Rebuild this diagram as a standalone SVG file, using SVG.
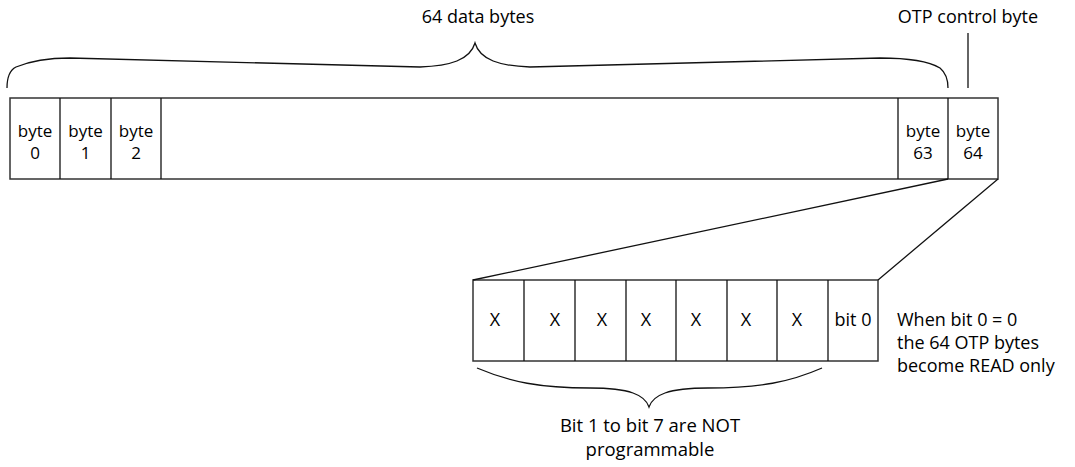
<svg xmlns="http://www.w3.org/2000/svg" width="1075" height="467" viewBox="0 0 1075 467">
<style>
text{font-family:"Open Sans","Liberation Sans",sans-serif;font-size:18px;fill:#000}
.c{text-anchor:middle}
.b{font-size:17px}
.box{fill:#fff;stroke:#333;stroke-width:1.5}
.ln{fill:none;stroke:#111;stroke-width:1.3}
</style>
<rect width="1075" height="467" fill="#fff"/>
<g id="main-row">
<rect class="box" x="10" y="98" width="988" height="81"/>
<line class="ln" x1="60" y1="98" x2="60" y2="179"/>
<line class="ln" x1="111" y1="98" x2="111" y2="179"/>
<line class="ln" x1="161" y1="98" x2="161" y2="179"/>
<line class="ln" x1="898" y1="98" x2="898" y2="179"/>
<line class="ln" x1="948" y1="98" x2="948" y2="179"/>
</g>
<g id="byte0"><text class="c b" x="35" y="137">byte<tspan x="35" dy="22">0</tspan></text></g>
<g id="byte1"><text class="c b" x="85.5" y="137">byte<tspan x="85.5" dy="22">1</tspan></text></g>
<g id="byte2"><text class="c b" x="136" y="137">byte<tspan x="136" dy="22">2</tspan></text></g>
<g id="byte63"><text class="c b" x="923" y="137">byte<tspan x="923" dy="22">63</tspan></text></g>
<g id="byte64"><text class="c b" x="973" y="137">byte<tspan x="973" dy="22">64</tspan></text></g>
<g id="label-data"><text class="c" x="478" y="23">64 data bytes</text></g>
<g id="label-otp"><text class="c" x="968" y="23">OTP control byte</text></g>
<g id="bit-row">
<rect class="box" x="473" y="280" width="405" height="81"/>
<line class="ln" x1="524" y1="280" x2="524" y2="361"/>
<line class="ln" x1="575" y1="280" x2="575" y2="361"/>
<line class="ln" x1="626" y1="280" x2="626" y2="361"/>
<line class="ln" x1="676" y1="280" x2="676" y2="361"/>
<line class="ln" x1="727" y1="280" x2="727" y2="361"/>
<line class="ln" x1="777" y1="280" x2="777" y2="361"/>
<line class="ln" x1="828" y1="280" x2="828" y2="361"/>
<text class="c" x="495" y="326">X</text>
<text class="c" x="555" y="326">X</text>
<text class="c" x="602" y="326">X</text>
<text class="c" x="646" y="326">X</text>
<text class="c" x="696" y="326">X</text>
<text class="c" x="746" y="326">X</text>
<text class="c" x="797" y="326">X</text>
<text class="c" x="853" y="326">bit 0</text>
</g>
<g id="note">
<text x="897" y="326">When bit 0 = 0<tspan x="897" dy="23">the 64 OTP bytes</tspan><tspan x="897" dy="23">become READ only</tspan></text>
</g>
<g id="label-bits">
<text class="c" x="650" y="432" style="font-size:18.5px">Bit 1 to bit 7 are NOT<tspan x="650" dy="24">programmable</tspan></text>
</g>
<g id="connectors">
<path class="ln" d="M7,88 C7,76 10,70 16,67 C28,62 45,58 70,58 L420,67 C450,66 470,60 475,43 C480,60 500,66 530,67 L880,58 C910,58 930,62 940,68 C946,73 948,80 948,88"/>
<line class="ln" x1="968" y1="33" x2="968" y2="88"/>
<line class="ln" x1="948" y1="179" x2="473" y2="280"/>
<line class="ln" x1="998" y1="179" x2="878" y2="280"/>
<path class="ln" d="M477,368 C510,382 540,388 590,388 C630,388 645,395 649,407 C653,395 668,388 708,388 C760,388 790,382 822,368"/>
</g>
</svg>
